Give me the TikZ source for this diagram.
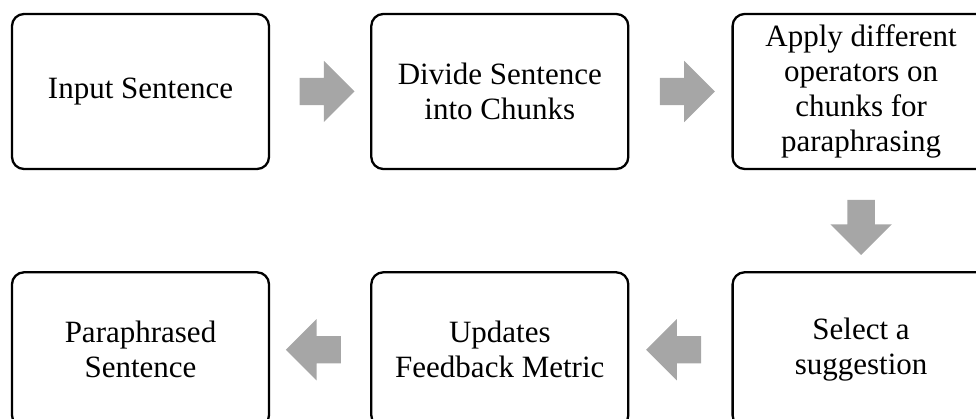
\documentclass[tikz,border=0pt]{standalone}
\usepackage{fontspec}
\setmainfont{Liberation Serif}
\definecolor{ArrowGray}{RGB}{166,166,166}
\usetikzlibrary{positioning,shapes.arrows,calc}

\begin{document}
\begin{tikzpicture}[
      every node/.style={font=\fontsize{31pt}{35pt}\selectfont, align=center},
      box/.style       ={draw, line width=2.3pt, rounded corners=12pt, minimum width=257pt, minimum height=155pt, inner sep=4pt},
      blk/.style       ={single arrow, fill=ArrowGray, draw=none, inner xsep=0pt, inner ysep=13.5pt,
                         minimum height=55pt, single arrow head extend=17pt},
  ]
  \useasboundingbox (0,0) rectangle (976pt,419pt);
  \clip (0,0) rectangle (976pt,419pt);

  % ─ Top row ─
  \node[box] at (140.5pt,327.5pt)      (inp)  {Input Sentence};
  \node[box, right=100pt of inp]       (div)  {Divide Sentence\\into Chunks};
  \node[box, right=102pt of div]       (ops)  {Apply different\\operators on\\chunks for\\paraphrasing};

  % ─ Bottom row ─
  \node[box, below=101pt of ops]       (sel)  {Select a\\suggestion};
  \node[box, left=102pt of sel]        (upd)  {Updates\\Feedback Metric};
  \node[box, left=100pt of upd]        (out)  {Paraphrased\\Sentence};

  % ─ Block arrows ─
  \node[blk] at ($(inp.east)!0.5!(div.west)$)             (a1) {};
  \node[blk] at ($(div.east)!0.5!(ops.west)$)             (a2) {};
  \node[blk, rotate=-90] at ($(ops.south)!0.5!(sel.north)$) (a3) {};
  \node[blk, rotate=180] at ($(sel.west)!0.5!(upd.east)$)   (a4) {};
  \node[blk, rotate=180] at ($(upd.west)!0.5!(out.east)$)   (a5) {};
\end{tikzpicture}
\end{document}
